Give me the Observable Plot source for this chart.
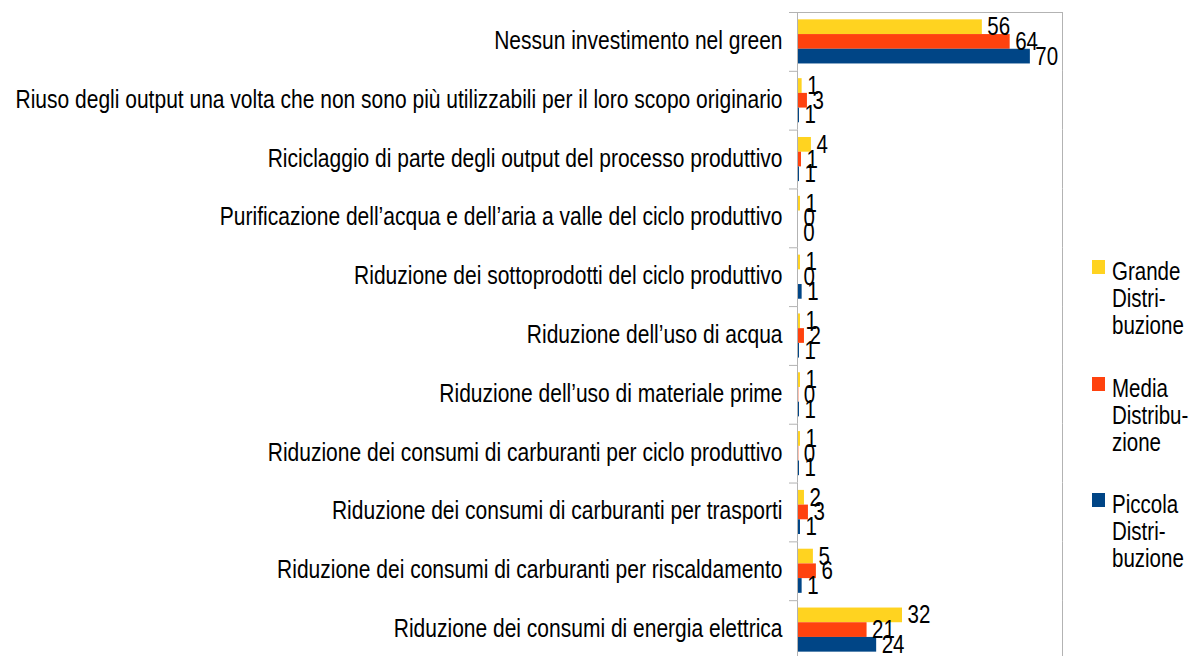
<!DOCTYPE html>
<html>
<head>
<meta charset="utf-8">
<script src="https://cdn.jsdelivr.net/npm/d3@7"></script>
<script src="https://cdn.jsdelivr.net/npm/@observablehq/plot@0.6"></script>
<style>
  html, body { margin: 0; padding: 0; background: #fff; }
  #wrap { position: relative; width: 1189px; height: 656px; overflow: hidden; }
  #legend { position: absolute; left: 1092px; top: 258px; font-family: "Liberation Sans", sans-serif; font-size: 25px; line-height: 27px; color: #000; }
  .item { position: relative; padding-left: 20px; height: 81px; margin-bottom: 35.5px; }
  .sw { position: absolute; left: 0; top: 2px; width: 13px; height: 14px; }
  .lbl { display: inline-block; transform: scaleX(0.82); transform-origin: left top; white-space: nowrap; }
</style>
</head>
<body>
<div id="wrap"><div id="chart"></div><div id="legend"></div></div>
<script>
const categories = [
  "Nessun investimento nel green",
  "Riuso degli output una volta che non sono più utilizzabili per il loro scopo originario",
  "Riciclaggio di parte degli output del processo produttivo",
  "Purificazione dell’acqua e dell’aria a valle del ciclo produttivo",
  "Riduzione dei sottoprodotti del ciclo produttivo",
  "Riduzione dell’uso di acqua",
  "Riduzione dell’uso di materiale prime",
  "Riduzione dei consumi di carburanti per ciclo produttivo",
  "Riduzione dei consumi di carburanti per trasporti",
  "Riduzione dei consumi di carburanti per riscaldamento",
  "Riduzione dei consumi di energia elettrica"
];
const series = ["Grande Distribuzione", "Media Distribuzione", "Piccola Distribuzione"];
const legendLabels = [["Grande", "Distri-", "buzione"], ["Media", "Distribu-", "zione"], ["Piccola", "Distri-", "buzione"]];
const grande  = [55.8, 1.4, 4.2, 0.9, 0.9, 0.9, 0.9, 0.9, 2.1, 4.8, 31.7];
const media   = [64.2, 3.0, 1.2, 0.3, 0.3, 2.1, 0.4, 0.4, 3.3, 5.7, 21.0];
const piccola = [70.3, 0.6, 0.6, 0.2, 1.4, 0.6, 0.6, 0.6, 0.9, 1.4, 23.9];
const colors = ["#ffd320", "#ff420e", "#004586"];

const valuesBySeries = [grande, media, piccola];
const data = categories.flatMap((c, i) => series.map((s, j) => ({category: c, series: s, value: valuesBySeries[j][i]})));

const W = 1080, H = 659, mTop = 12, mBottom = 0, mLeft = 797, mRight = 18;
const step = (H - mTop - mBottom) / categories.length;
const frameColor = "#b3b3b3";

const chart = Plot.plot({
  width: W, height: H,
  marginTop: mTop, marginBottom: mBottom, marginLeft: mLeft, marginRight: mRight,
  style: {fontFamily: "'Liberation Sans', sans-serif", fontSize: "25px", color: "#000", background: "#fff"},
  x: {domain: [0, 80], axis: null},
  y: {domain: series, axis: null, paddingInner: 0, paddingOuter: 0.5, round: false},
  fy: {domain: categories, padding: 0, label: null, round: false},
  color: {domain: series, range: colors},
  marks: [
    Plot.barX(data, {fy: "category", y: "series", x: "value", fill: "series"}),
    Plot.ruleX([0, 80], {stroke: frameColor}),
    Plot.gridFy({ticks: [categories[0]], dy: -step / 2, stroke: frameColor, strokeOpacity: 1}),
    Plot.axisFy({anchor: "left", tickSize: 8, tickFormat: () => "", dy: -step / 2, stroke: frameColor, label: null}),
    Plot.axisFy({anchor: "left", tickSize: 0, tickPadding: 15, label: null, fontSize: 25, dy: -1}),
    Plot.text(data, {fy: "category", y: "series", x: "value", text: d => d3.format(".0f")(d.value), textAnchor: "start", dx: 5, fill: "#000", fontSize: 25})
  ]
});
document.getElementById("chart").appendChild(chart);

// squeeze glyphs horizontally (the narrow face is not installed)
function squeeze(sel, k) {
  sel.each(function() {
    if (!this.textContent) return;
    const len = this.getComputedTextLength();
    if (len > 0) {
      this.setAttribute("textLength", len * k);
      this.setAttribute("lengthAdjust", "spacingAndGlyphs");
    }
  });
}
const svg = d3.select(chart);
squeeze(svg.selectAll("g[aria-label='fy-axis tick label'] text"), 0.84);
squeeze(svg.selectAll("g[aria-label='text'] text"), 0.82);

const legend = document.getElementById("legend");
series.forEach((s, j) => {
  const item = document.createElement("div");
  item.className = "item";
  const sw = document.createElement("div");
  sw.className = "sw";
  sw.style.background = colors[j];
  item.appendChild(sw);
  const lbl = document.createElement("span");
  lbl.className = "lbl";
  lbl.innerHTML = legendLabels[j].join("<br>");
  item.appendChild(lbl);
  legend.appendChild(item);
});
</script>
</body>
</html>
